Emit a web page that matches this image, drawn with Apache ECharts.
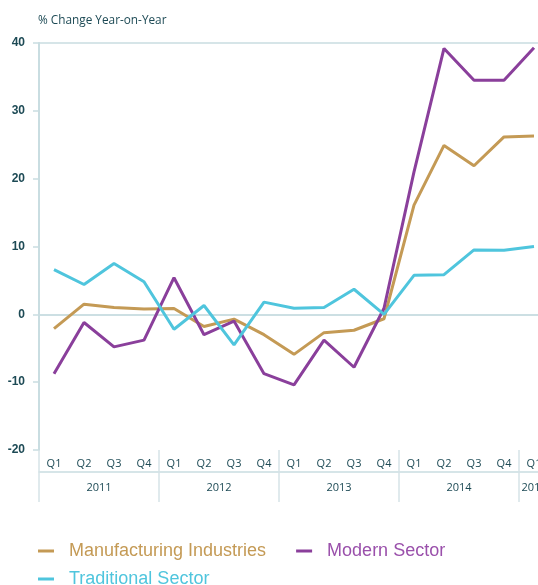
<!DOCTYPE html>
<html>
<head>
<meta charset="utf-8">
<script src="https://cdn.jsdelivr.net/npm/echarts@6/dist/echarts.min.js"></script>
<style>html,body{margin:0;padding:0;background:#fff;}#c{width:538px;height:585px;}</style>
</head>
<body>
<div id="c"></div>
<script>
var quarters = ['Q1','Q2','Q3','Q4','Q1','Q2','Q3','Q4','Q1','Q2','Q3','Q4','Q1','Q2','Q3','Q4','Q1'];
var years = ['2011','2012','2013','2014','2015'];
var manufacturing = [-2.1, 1.5, 1.0, 0.8, 0.85, -1.8, -0.7, -3.0, -5.9, -2.7, -2.35, -0.65, 16.1, 24.9, 21.9, 26.15, 26.3];
var modern = [-8.75, -1.2, -4.8, -3.8, 5.4, -3.0, -1.0, -8.75, -10.4, -3.8, -7.8, 0.9, 21.0, 39.2, 34.5, 34.5, 39.3];
var traditional = [6.6, 4.4, 7.5, 4.8, -2.2, 1.3, -4.5, 1.8, 0.9, 1.0, 3.7, 0.0, 5.75, 5.85, 9.5, 9.45, 10.0];
var yTicks = [-20, -10, 0, 10, 20, 30, 40];

var axisCol = '#c9dde1';
var textCol = '#1d4a55';
var cTan = '#c49a55', cPur = '#8a3f9b', cCyan = '#4fc5dd';

var yearLabelAt = {};
years.forEach(function (y, i) { yearLabelAt[i * 4 + (i < 4 ? 1 : 0)] = y; });

var chart = echarts.init(document.getElementById('c'));
chart.setOption({
  animation: false,
  textStyle: { fontFamily: 'Open Sans' },
  title: {
    text: '% Change Year-on-Year', left: 33, top: 10,
    textStyle: { fontSize: 11.8, fontWeight: 'normal', color: textCol, fontFamily: 'Open Sans' }
  },
  grid: { left: 39, top: 43, width: 510, height: 407, containLabel: false, outerBoundsMode: 'none' },
  legend: [{
    left: 38, top: 542, padding: 0, icon: 'rect', itemWidth: 16, itemHeight: 3, itemGap: 30,
    textStyle: { fontSize: 18, fontFamily: 'Liberation Sans', padding: [0, 0, 0, 10] },
    data: [
      { name: 'Manufacturing Industries', textStyle: { color: cTan } },
      { name: 'Modern Sector', textStyle: { color: '#9a50ab' } }
    ]
  }, {
    left: 38, top: 570, padding: 0, icon: 'rect', itemWidth: 16, itemHeight: 3, itemGap: 30,
    textStyle: { fontSize: 18, fontFamily: 'Liberation Sans', padding: [0, 0, 0, 10] },
    data: [{ name: 'Traditional Sector', textStyle: { color: cCyan } }]
  }],
  xAxis: [{
    type: 'category', data: quarters, position: 'bottom', boundaryGap: true,
    axisLine: { lineStyle: { color: axisCol, width: 1.5 } },
    axisTick: { length: 9, interval: 0, lineStyle: { color: '#d6e4e7', width: 1.5 } },
    axisLabel: { color: textCol, fontSize: 11, margin: 8, fontFamily: 'Open Sans', interval: 0 }
  }, {
    type: 'category', data: quarters, position: 'bottom', boundaryGap: true, offset: 0,
    axisLine: { show: false },
    axisTick: { show: true, length: 52, interval: 3, lineStyle: { color: '#d6e4e7', width: 1.5 } },
    axisLabel: {
      margin: 32, interval: 0, color: textCol, fontSize: 11, fontFamily: 'Open Sans',
      formatter: function (v, i) {
        if (yearLabelAt[i] === undefined) return '';
        return i < 16 ? '{s|' + yearLabelAt[i] + '}' : '{n|' + yearLabelAt[i] + '}';
      },
      rich: {
        s: { padding: [0, 0, 0, 30], color: textCol, fontSize: 11, fontFamily: 'Open Sans' },
        n: { color: textCol, fontSize: 11, fontFamily: 'Open Sans' }
      }
    }
  }, {
    type: 'category', data: quarters, position: 'bottom', offset: 22,
    axisLine: { lineStyle: { color: axisCol, width: 1.5 } },
    axisTick: { show: false }, axisLabel: { show: false }
  }],
  yAxis: {
    type: 'value', min: yTicks[0], max: yTicks[yTicks.length - 1], interval: 10,
    axisLine: { show: true, lineStyle: { color: axisCol, width: 2 } },
    axisTick: { show: true, length: 6, lineStyle: { color: axisCol, width: 1.5 } },
    axisLabel: { color: textCol, fontSize: 12, fontWeight: 'bold', margin: 14, fontFamily: 'Liberation Sans' },
    splitLine: { show: true, lineStyle: { width: 1.5, color: ['rgba(0,0,0,0)', 'rgba(0,0,0,0)', axisCol, 'rgba(0,0,0,0)', 'rgba(0,0,0,0)', 'rgba(0,0,0,0)', axisCol] } }
  },
  series: [
    { name: 'Manufacturing Industries', type: 'line', data: manufacturing, symbol: 'none', lineStyle: { color: cTan, width: 3 }, itemStyle: { color: cTan } },
    { name: 'Modern Sector', type: 'line', data: modern, symbol: 'none', lineStyle: { color: cPur, width: 3 }, itemStyle: { color: cPur } },
    { name: 'Traditional Sector', type: 'line', data: traditional, symbol: 'none', lineStyle: { color: cCyan, width: 3 }, itemStyle: { color: cCyan } }
  ]
});
</script>
</body>
</html>
